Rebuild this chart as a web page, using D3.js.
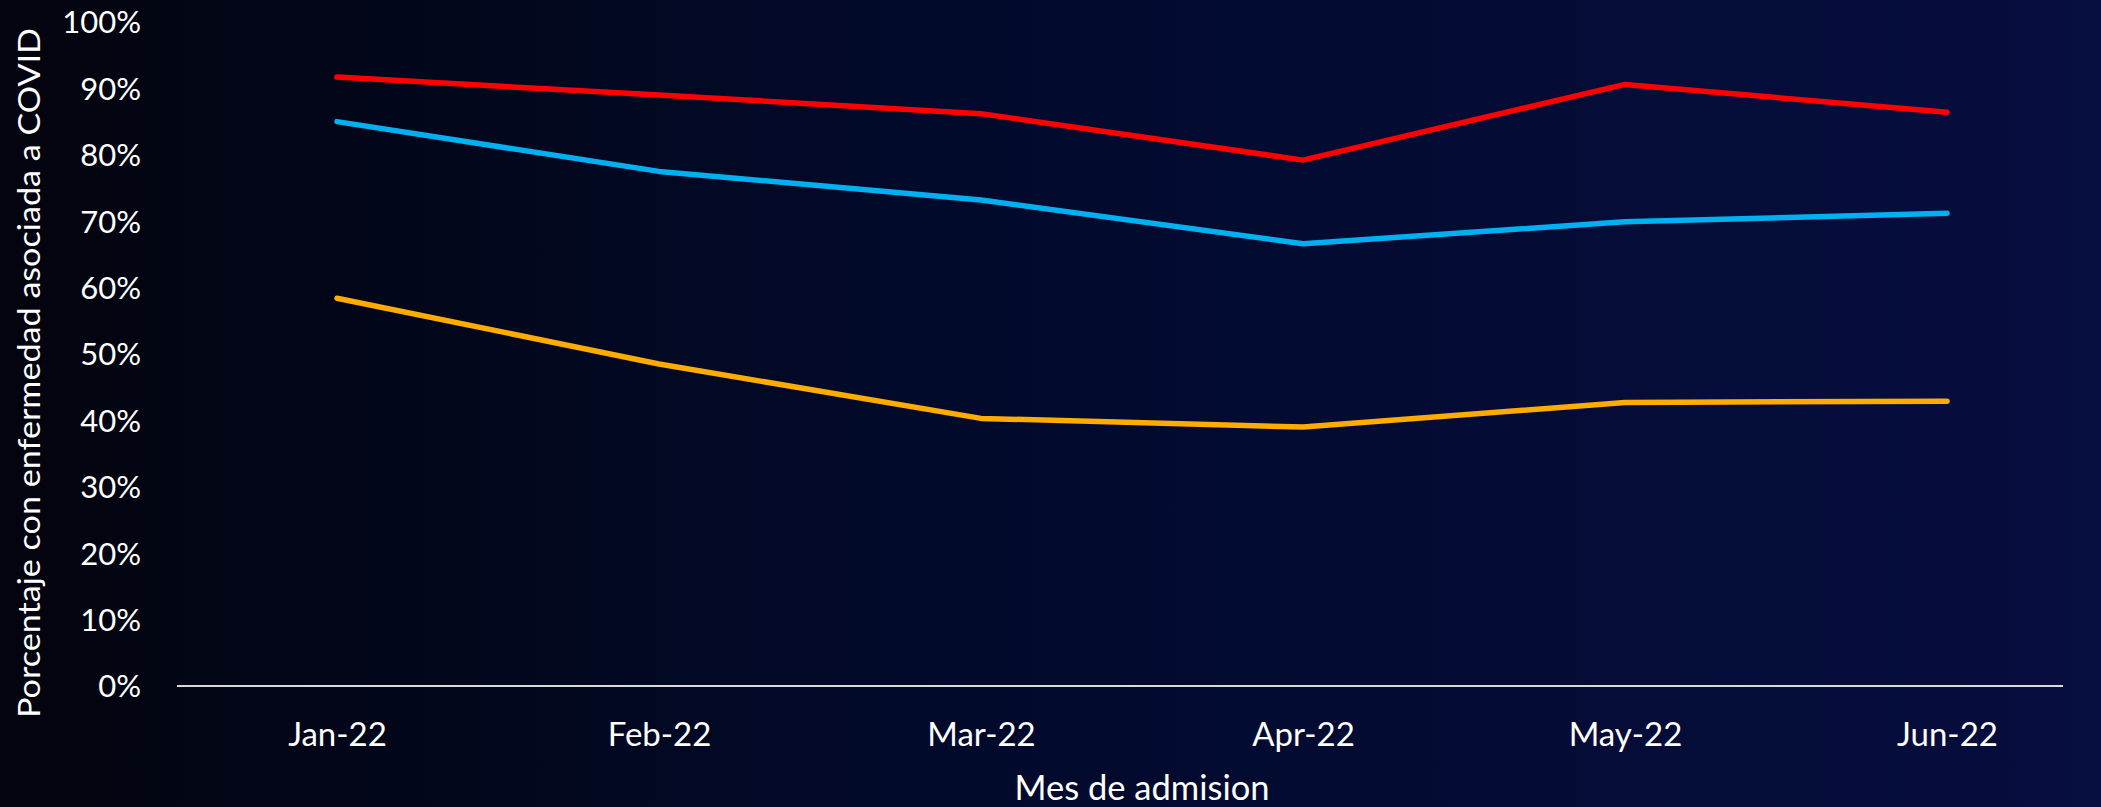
<!DOCTYPE html>
<html>
<head>
<meta charset="utf-8">
<script src="https://cdn.jsdelivr.net/npm/d3@7"></script>
<style>
html,body{margin:0;padding:0;background:#02030c;}
svg{display:block;}
</style>
</head>
<body>
<svg id="chart" width="2101" height="807"></svg>
<script>
const months = ["Jan-22","Feb-22","Mar-22","Apr-22","May-22","Jun-22"];
const redSeries    = [0.917, 0.890, 0.862, 0.792, 0.906, 0.864];
const blueSeries   = [0.850, 0.775, 0.732, 0.666, 0.699, 0.712];
const orangeSeries = [0.584, 0.485, 0.403, 0.390, 0.427, 0.429];
const yTicks = [0,0.1,0.2,0.3,0.4,0.5,0.6,0.7,0.8,0.9,1.0];
const seriesList = [
  {name:"red", values: redSeries, color:"#ff0000"},
  {name:"blue", values: blueSeries, color:"#00b0f0"},
  {name:"orange", values: orangeSeries, color:"#ffab00"}
];

const W = 2101, H = 807;
const svg = d3.select("#chart");

const defs = svg.append("defs");
const grad = defs.append("linearGradient").attr("id","bg").attr("x1","0").attr("y1","0").attr("x2","1").attr("y2","0");
grad.append("stop").attr("offset","0").attr("stop-color","#03040e");
grad.append("stop").attr("offset","0.45").attr("stop-color","#010a2b");
grad.append("stop").attr("offset","1").attr("stop-color","#070e40");
svg.append("rect").attr("width",W).attr("height",H).attr("fill","url(#bg)");

const x = d3.scalePoint().domain(months).range([337, 1947]);
const y = d3.scaleLinear().domain([0,1]).range([686, 22]);

// y axis labels
const yAxis = d3.axisLeft(y).tickValues(yTicks).tickFormat(d3.format(".0%")).tickSize(0).tickPadding(0);
const gy = svg.append("g").attr("transform","translate(141,0)").call(yAxis);
gy.select(".domain").remove();
gy.selectAll("text").attr("fill","#ffffff").style("font-family","Lato, 'Open Sans', sans-serif").style("font-size","31px").attr("dy","0.35em");

// x axis
const xAxis = d3.axisBottom(x).tickSize(0).tickPadding(0);
const gx = svg.append("g").attr("transform","translate(0,686)").call(xAxis);
gx.select(".domain").remove();
gx.selectAll("text").attr("fill","#ffffff").attr("y",48).attr("dy","0.35em").style("font-family","Lato, 'Open Sans', sans-serif").style("font-size","33px");
svg.append("line").attr("x1",177).attr("x2",2063).attr("y1",y(0)).attr("y2",y(0)).attr("stroke","#d9d9d9").attr("stroke-width",2);

// lines
const line = d3.line().x((d,i)=>x(months[i])).y(d=>y(d));
svg.append("g").selectAll("path").data(seriesList).join("path")
  .attr("d", d=>line(d.values))
  .attr("fill","none")
  .attr("stroke", d=>d.color)
  .attr("stroke-width",5.5)
  .attr("stroke-linecap","round")
  .attr("stroke-linejoin","round");

// axis titles
svg.append("text").attr("x",(x(months[0])+x(months[5]))/2).attr("y",788).attr("dy","0.35em")
  .attr("text-anchor","middle").attr("fill","#ffffff")
  .style("font-family","Lato, 'Open Sans', sans-serif").style("font-size","34.5px")
  .text("Mes de admision");

svg.append("text").attr("transform","translate(29,373) rotate(-90)").attr("dy","0.35em")
  .attr("text-anchor","middle").attr("fill","#ffffff")
  .attr("textLength",690).attr("lengthAdjust","spacingAndGlyphs")
  .style("font-family","Lato, 'Open Sans', sans-serif").style("font-size","31px")
  .text("Porcentaje con enfermedad asociada a COVID");
</script>
</body>
</html>
